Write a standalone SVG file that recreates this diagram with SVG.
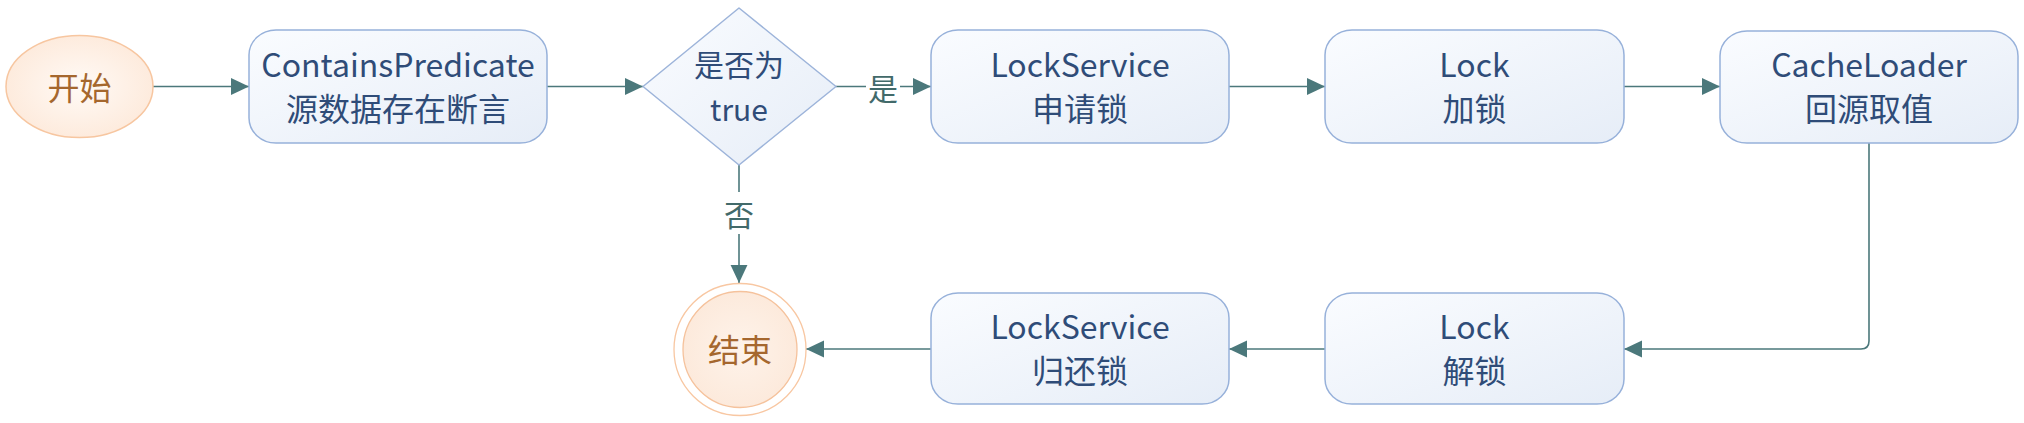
<svg xmlns="http://www.w3.org/2000/svg" width="2024" height="423" viewBox="0 0 2024 423">
<style>
.box{fill:url(#boxg);stroke:#97b1da;stroke-width:1.5}
.t{font-family:"Noto Sans CJK SC","Liberation Sans",sans-serif;font-size:32px;fill:#2f4c78;text-anchor:middle}
.td{font-family:"Noto Sans CJK SC","Liberation Sans",sans-serif;font-size:30px;fill:#2f4c78;text-anchor:middle}
.tb{font-family:"Noto Sans CJK SC","Liberation Sans",sans-serif;font-size:32px;fill:#a5672e;text-anchor:middle}
.lbl{font-family:"Noto Sans CJK SC","Liberation Sans",sans-serif;font-size:30px;fill:#426a6a;text-anchor:middle}
.c{fill:none;stroke:#4b787b;stroke-width:1.6}
</style>
<defs>
<linearGradient id="boxg" x1="0" y1="0" x2="1" y2="1">
<stop offset="0" stop-color="#fafcff"/>
<stop offset="1" stop-color="#e6edf7"/>
</linearGradient>
<radialGradient id="startg" cx="0.5" cy="0.5" r="0.6">
<stop offset="0" stop-color="#fffaf6"/>
<stop offset="1" stop-color="#fde8d8"/>
</radialGradient>
<radialGradient id="endg" cx="0.5" cy="0.5" r="0.6">
<stop offset="0" stop-color="#fef3ea"/>
<stop offset="1" stop-color="#fce8d9"/>
</radialGradient>
<marker id="arr" markerUnits="userSpaceOnUse" markerWidth="18" markerHeight="18" viewBox="0 0 16 16" refX="16" refY="8" orient="auto">
<path d="M0,0.5 L16,8 L0,15.5 Z" fill="#4b787b"/>
</marker>
</defs>

<g id="connectors">
<path class="c" d="M153,86.5 H249" marker-end="url(#arr)"/>
<path class="c" d="M547,86.5 H643" marker-end="url(#arr)"/>
<path class="c" d="M836,86.5 H931" marker-end="url(#arr)"/>
<path class="c" d="M1229,86.5 H1325" marker-end="url(#arr)"/>
<path class="c" d="M1624,86.5 H1720" marker-end="url(#arr)"/>
<path class="c" d="M1869,143 V341 Q1869,349 1861,349 H1624" marker-end="url(#arr)"/>
<path class="c" d="M1325,349 H1229" marker-end="url(#arr)"/>
<path class="c" d="M931,349 H806" marker-end="url(#arr)"/>
<path class="c" d="M739,165 V283" marker-end="url(#arr)"/>
<rect x="866" y="72" width="34" height="34" fill="#ffffff"/>
<text class="lbl" x="883" y="100">是</text>
<rect x="722" y="192" width="34" height="42" fill="#ffffff"/>
<text class="lbl" x="739" y="226">否</text>
</g>

<g id="start">
<ellipse cx="79.5" cy="86.5" rx="73.5" ry="51" fill="url(#startg)" stroke="#f7c6a0" stroke-width="1.5"/>
<text class="tb" x="79.5" y="100">开始</text>
</g>

<g id="containsPredicate">
<rect class="box" x="249" y="30" width="298" height="113" rx="27" ry="25"/>
<text class="t" x="398" y="77">ContainsPredicate</text>
<text class="t" x="398" y="121">源数据存在断言</text>
</g>

<g id="decision">
<path d="M739,8 L836,86.5 L739,165 L643,86.5 Z" fill="url(#boxg)" stroke="#9db4da" stroke-width="1.5" stroke-linejoin="round"/>
<text class="td" x="739" y="76">是否为</text>
<text class="td" x="739" y="121">true</text>
</g>

<g id="lockServiceApply">
<rect class="box" x="931" y="30" width="298" height="113" rx="27" ry="25"/>
<text class="t" x="1080" y="77">LockService</text>
<text class="t" x="1080" y="121">申请锁</text>
</g>

<g id="lock">
<rect class="box" x="1325" y="30" width="299" height="113" rx="27" ry="25"/>
<text class="t" x="1474.5" y="77">Lock</text>
<text class="t" x="1474.5" y="121">加锁</text>
</g>

<g id="cacheLoader">
<rect class="box" x="1720" y="31" width="298" height="112" rx="27" ry="25"/>
<text class="t" x="1869" y="77">CacheLoader</text>
<text class="t" x="1869" y="121">回源取值</text>
</g>

<g id="unlock">
<rect class="box" x="1325" y="293" width="299" height="111" rx="27" ry="25"/>
<text class="t" x="1474.5" y="339">Lock</text>
<text class="t" x="1474.5" y="383">解锁</text>
</g>

<g id="lockServiceReturn">
<rect class="box" x="931" y="293" width="298" height="111" rx="27" ry="25"/>
<text class="t" x="1080" y="339">LockService</text>
<text class="t" x="1080" y="383">归还锁</text>
</g>

<g id="end">
<circle cx="740" cy="349.5" r="66" fill="#ffffff" stroke="#f8c7a2" stroke-width="1.3"/>
<ellipse cx="740" cy="349.5" rx="57" ry="58" fill="url(#endg)" stroke="#f5c29c" stroke-width="1.3"/>
<text class="tb" x="740" y="362">结束</text>
</g>
</svg>
